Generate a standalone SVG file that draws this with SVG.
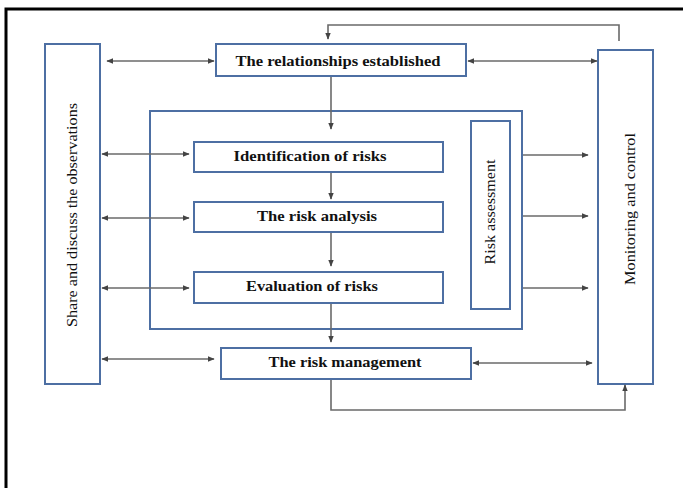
<svg xmlns="http://www.w3.org/2000/svg" width="683" height="488" viewBox="0 0 683 488">
<defs>
<marker id="ah" viewBox="0 0 10 10" refX="9" refY="5" markerWidth="7" markerHeight="7" markerUnits="userSpaceOnUse" orient="auto-start-reverse">
<path d="M0,1 L10,5 L0,9 Z" fill="#444"/>
</marker>
</defs>
<style>
.box{fill:#fff;stroke:#4d6fa3;stroke-width:2}
.ln{fill:none;stroke:#6a6a6a;stroke-width:1.6}
.t{font-family:"Liberation Serif","Times New Roman",serif;font-weight:bold;font-size:14.5px;fill:#111;text-anchor:middle}
.v{font-family:"Liberation Serif","Times New Roman",serif;font-size:14px;fill:#111;text-anchor:middle}
</style>
<rect width="683" height="488" fill="#fff"/>
<path d="M6,488 V9 H683" fill="none" stroke="#000" stroke-width="3"/>
<g id="inner-frame"><rect class="box" x="150" y="111" width="372" height="218"/></g>
<g id="share"><rect class="box" x="45" y="44" width="55" height="340"/>
<text class="v" transform="translate(77,215) rotate(-90)" textLength="224" lengthAdjust="spacingAndGlyphs">Share and discuss the observations</text></g>
<g id="monitoring"><rect class="box" x="598" y="50" width="55" height="334"/>
<text class="v" transform="translate(635,209) rotate(-90)" textLength="152" lengthAdjust="spacingAndGlyphs">Monitoring and control</text></g>
<g id="relationships"><rect class="box" x="216" y="44" width="250" height="32"/>
<text class="t" x="338" y="66" textLength="205" lengthAdjust="spacingAndGlyphs">The relationships established</text></g>
<g id="identification"><rect class="box" x="194" y="142" width="249" height="30"/>
<text class="t" x="310" y="161" textLength="153" lengthAdjust="spacingAndGlyphs">Identification of risks</text></g>
<g id="analysis"><rect class="box" x="194" y="202" width="249" height="30"/>
<text class="t" x="317" y="221" textLength="120" lengthAdjust="spacingAndGlyphs">The risk analysis</text></g>
<g id="evaluation"><rect class="box" x="194" y="272" width="249" height="31"/>
<text class="t" x="312" y="291" textLength="132" lengthAdjust="spacingAndGlyphs">Evaluation of risks</text></g>
<g id="management"><rect class="box" x="221" y="348" width="250" height="31"/>
<text class="t" x="345" y="367" textLength="153" lengthAdjust="spacingAndGlyphs">The risk management</text></g>
<g id="assessment"><rect class="box" x="471" y="121" width="39" height="188"/>
<text class="v" transform="translate(495,212) rotate(-90)" textLength="105" lengthAdjust="spacingAndGlyphs">Risk assessment</text></g>
<g id="connectors">
<path class="ln" d="M619,41 V25 H328 V39" marker-end="url(#ah)"/>
<path class="ln" d="M107,61 H214" marker-start="url(#ah)" marker-end="url(#ah)"/>
<path class="ln" d="M468,61 H597" marker-start="url(#ah)" marker-end="url(#ah)"/>
<path class="ln" d="M331,77 V129" marker-end="url(#ah)"/>
<path class="ln" d="M102,154 H189" marker-start="url(#ah)" marker-end="url(#ah)"/>
<path class="ln" d="M102,218 H189" marker-start="url(#ah)" marker-end="url(#ah)"/>
<path class="ln" d="M102,288 H189" marker-start="url(#ah)" marker-end="url(#ah)"/>
<path class="ln" d="M102,359 H214" marker-start="url(#ah)" marker-end="url(#ah)"/>
<path class="ln" d="M331,173 V199" marker-end="url(#ah)"/>
<path class="ln" d="M331,233 V266" marker-end="url(#ah)"/>
<path class="ln" d="M331,304 V342" marker-end="url(#ah)"/>
<path class="ln" d="M523,155 H588" marker-end="url(#ah)"/>
<path class="ln" d="M523,216 H588" marker-end="url(#ah)"/>
<path class="ln" d="M523,288 H588" marker-end="url(#ah)"/>
<path class="ln" d="M473,363 H592" marker-start="url(#ah)" marker-end="url(#ah)"/>
<path class="ln" d="M331,380 V410 H625 V385" marker-end="url(#ah)"/>
</g>
</svg>
